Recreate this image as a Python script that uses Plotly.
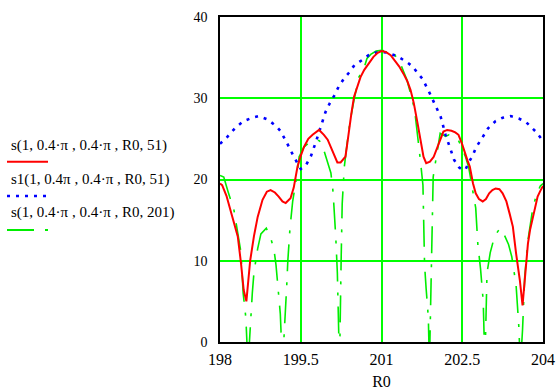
import plotly.graph_objects as go

# ---- data ----
red_x = [198.0, 198.04, 198.12, 198.2, 198.27, 198.33, 198.39, 198.44, 198.49, 198.53, 198.56, 198.63, 198.70,
         198.79, 198.87, 198.94, 199.02, 199.09, 199.16, 199.22, 199.31, 199.37, 199.41, 199.44, 199.50, 199.56,
         199.64, 199.72, 199.84, 199.93, 200.0, 200.06, 200.12, 200.18, 200.24, 200.30, 200.33, 200.36, 200.39,
         200.44, 200.49, 200.55, 200.61, 200.68, 200.76, 200.85, 200.93, 201.0, 201.08, 201.17, 201.25, 201.33,
         201.41, 201.48, 201.54, 201.60, 201.67, 201.72, 201.78, 201.83, 201.90, 201.97, 202.06, 202.15, 202.22,
         202.30, 202.37, 202.43, 202.49, 202.55, 202.60, 202.64, 202.70, 202.75, 202.81, 202.88, 202.94, 203.0,
         203.06, 203.12, 203.19, 203.25, 203.32, 203.38, 203.44, 203.50, 203.57, 203.62, 203.66, 203.72, 203.76,
         203.81, 203.86, 203.90, 203.95, 204.0]
red_y = [19.5, 19.3, 18.0, 16.2, 14.6, 13.0, 9.7, 6.4, 5.0, 7.5, 10.0, 13.0, 15.4,
         17.5, 18.5, 18.7, 18.4, 17.9, 17.3, 17.1, 17.7, 19.0, 20.3, 21.6, 22.9, 24.0,
         25.0, 25.5, 26.1, 25.5, 24.9, 24.0, 23.0, 22.1, 22.1, 22.5, 22.8, 24.2, 25.9,
         28.1, 30.2, 31.5, 32.6, 33.5, 34.3, 35.1, 35.6, 35.8, 35.7, 35.3, 34.6, 33.9,
         33.0, 32.1, 31.0, 29.4, 26.9, 24.8, 22.8, 22.0, 22.2, 22.8, 24.4, 25.9, 26.1,
         26.0, 25.8, 25.5, 24.5, 23.2, 22.3, 21.6, 19.5, 18.3, 17.6, 17.3, 17.6, 18.3,
         18.7, 18.9, 18.8, 18.3, 17.3, 15.8, 14.2, 10.9, 7.6, 4.5, 7.6, 12.1, 13.8,
         15.4, 16.8, 17.9, 18.6, 19.2]

blue_x = [198.0, 198.13, 198.22, 198.31, 198.44, 198.6, 198.72, 198.88, 199.04, 199.12, 199.22, 199.28, 199.35,
          199.43, 199.5, 199.6, 199.69, 199.78, 199.87, 199.96, 200.04, 200.12, 200.21, 200.30, 200.39, 200.5,
          200.64, 200.76, 200.88, 201.0, 201.12, 201.2, 201.31, 201.46, 201.58, 201.67, 201.76, 201.89, 201.98,
          202.07, 202.1, 202.19, 202.28, 202.35, 202.44, 202.5, 202.56, 202.62, 202.69, 202.76, 202.84, 202.9,
          202.98, 203.12, 203.25, 203.4, 203.55, 203.68, 203.78, 203.88, 203.97, 204.0]
blue_y = [24.4, 25.2, 25.9, 26.5, 27.2, 27.6, 27.8, 27.4, 26.6, 26.0, 24.8, 24.1, 23.1,
          22.1, 21.3, 21.8, 22.9, 24.6, 26.5, 28.3, 29.4, 30.3, 31.5, 32.4, 33.1, 34.1,
          34.7, 35.3, 35.6, 35.7, 35.6, 35.4, 35.1, 34.5, 33.9, 33.1, 32.4, 30.7, 29.4,
          28.3, 27.7, 25.5, 23.8, 22.4, 21.5, 21.2, 21.2, 22.1, 22.9, 24.0, 24.8, 25.5,
          26.3, 27.2, 27.6, 27.8, 27.5, 27.1, 26.5, 25.8, 25.0, 24.6]

green_x = [198.0, 198.07, 198.15, 198.26, 198.33, 198.39, 198.43, 198.48, 198.52, 198.56, 198.60, 198.63, 198.70,
           198.76, 198.86, 198.94, 199.0, 199.04, 199.08, 199.12, 199.16, 199.21, 199.24, 199.26, 199.30, 199.35,
           199.41, 199.44, 199.47, 199.56, 199.65, 199.74, 199.84, 199.90, 199.93, 199.96, 200.0, 200.06, 200.10,
           200.12, 200.15, 200.18, 200.20, 200.22, 200.25, 200.27, 200.30, 200.31, 200.36, 200.41, 200.49, 200.58,
           200.67, 200.73, 200.80, 200.90, 201.0, 201.10, 201.23, 201.35, 201.41, 201.47, 201.54, 201.60, 201.63,
           201.66, 201.69, 201.72, 201.77, 201.78, 201.80, 201.83, 201.87, 201.89, 201.93, 201.94, 201.96, 202.0,
           202.09, 202.19, 202.25, 202.31, 202.43, 202.49, 202.56, 202.62, 202.70, 202.75, 202.79, 202.84, 202.89,
           202.92, 202.96, 203.02, 203.1, 203.2, 203.28, 203.36, 203.42, 203.50, 203.55, 203.58, 203.62, 203.66,
           203.72, 203.80, 203.87, 203.95, 204.0]
green_y = [20.5, 20.3, 18.5, 16.2, 13.4, 11.0, 6.0, 3.0, -3.0, 2.0, 6.0, 8.5, 11.5,
           13.3, 14.0, 12.8, 11.5, 9.5, 6.8, 3.5, -3.0, 2.5, 7.0, 10.0, 14.0, 17.3,
           19.5, 21.0, 22.8, 24.0, 24.5, 24.8, 24.8, 24.4, 23.6, 22.9, 22.2, 20.8, 18.5,
           16.5, 13.0, 8.5, 3.5, -3.0, 10.0, 17.0, 20.5, 21.6, 24.4, 26.9, 29.8, 32.6,
           33.6, 34.9, 35.4, 35.8, 35.9, 35.8, 35.5, 34.3, 33.3, 32.3, 30.6, 29.0, 27.7,
           25.7, 24.0, 22.5, 19.3, 14.5, 9.5, 6.5, 3.0, -3.0, 12.0, 17.0, 20.3, 22.0,
           25.7, 25.3, 25.5, 25.4, 24.8, 24.0, 22.8, 21.5, 18.7, 16.5, 12.0, 9.0, 5.0,
           -3.0, 8.5, 11.0, 13.0, 14.0, 13.2, 12.0, 10.5, 7.0, 2.0, -3.0, 1.5, 8.0,
           12.5, 16.0, 18.0, 19.2, 19.5]

x_ticks = [198, 199.5, 201, 202.5, 204]
y_ticks = [0, 10, 20, 30, 40]
legend_labels = ["s(1, 0.4·π , 0.4·π , R0, 51)",
                 "s1(1, 0.4π , 0.4·π , R0, 51)",
                 "s(1, 0.4·π , 0.4·π , R0, 201)"]

RED = "#ff0000"
BLUE = "#0000ff"
GREEN = "#00ee00"
GRID = "#00ff00"
FONT = "Liberation Serif"

fig = go.Figure()
fig.add_trace(go.Scatter(x=green_x, y=green_y, mode="lines",
                         line=dict(color=GREEN, width=1.6, dash="27px,11px,3px,11px"),
                         showlegend=False, hoverinfo="skip"))
fig.add_trace(go.Scatter(x=blue_x, y=blue_y, mode="lines",
                         line=dict(color=BLUE, width=2.6, dash="3px,6px"),
                         showlegend=False, hoverinfo="skip"))
fig.add_trace(go.Scatter(x=red_x, y=red_y, mode="lines",
                         line=dict(color=RED, width=2),
                         showlegend=False, hoverinfo="skip"))

# plot area in pixels: x 220..543, y 17..342
L, R, T, B = 220, 543, 17, 342
W, H = 556, 390
pw, ph = R - L, B - T

def px(xp):
    return (xp - L) / pw

def py(yp):
    return (B - yp) / ph

label_y = [145, 179, 212.7]
line_y = [161.7, 196, 230]
styles = [dict(color=RED, width=2),
          dict(color=BLUE, width=2.6, dash="3px,6px"),
          dict(color=GREEN, width=1.8, dash="27px,11px,3px,11px")]

annotations = []
shapes = []
for lab, ly, sy, st in zip(legend_labels, label_y, line_y, styles):
    annotations.append(dict(text=lab, x=px(9), y=py(ly), xref="paper", yref="paper",
                            xanchor="left", yanchor="middle", showarrow=False,
                            font=dict(family=FONT, size=15, color="black")))
    shapes.append(dict(type="line", xref="paper", yref="paper",
                       x0=px(7), x1=px(48), y0=py(sy), y1=py(sy), line=st))

fig.update_layout(
    width=W, height=H,
    margin=dict(l=L, r=W - R, t=T, b=H - B),
    paper_bgcolor="white", plot_bgcolor="white",
    font=dict(family=FONT, size=15, color="black"),
    showlegend=False,
    annotations=annotations,
    shapes=shapes,
    xaxis=dict(range=[198, 204], tickvals=x_ticks, ticktext=[str(v) for v in x_ticks],
               tickfont=dict(family=FONT, size=16),
               showgrid=True, gridcolor=GRID, gridwidth=2, zeroline=False,
               showline=True, linecolor="black", linewidth=1.5, mirror=True,
               ticks="", ticklabelstandoff=2, automargin=False,
               title=dict(text="R0", font=dict(family=FONT, size=16), standoff=9)),
    yaxis=dict(range=[0, 40], tickvals=y_ticks, ticktext=[str(v) for v in y_ticks],
               tickfont=dict(family=FONT, size=14),
               showgrid=True, gridcolor=GRID, gridwidth=2, zeroline=False,
               showline=True, linecolor="black", linewidth=1.5, mirror=True,
               ticks="", ticklabelstandoff=8, automargin=False),
)

fig.write_html("out.html", config={"displayModeBar": False},
               post_script="document.body.style.margin='0';document.body.style.overflow='hidden';")
